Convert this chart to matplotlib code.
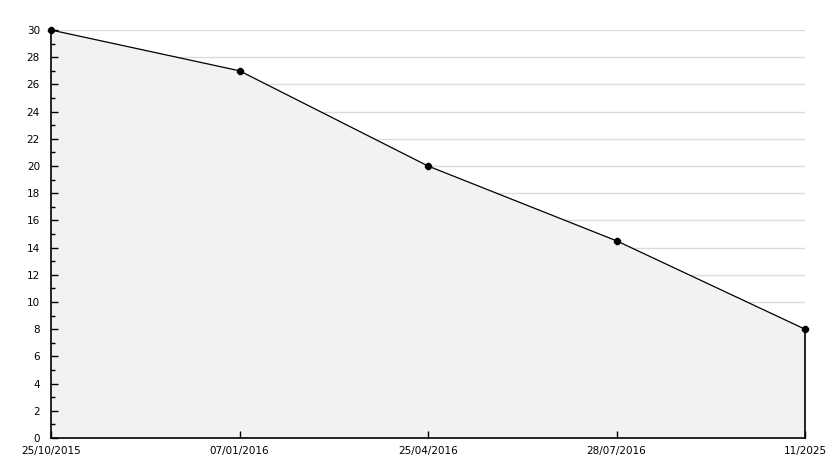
import matplotlib
matplotlib.use("Agg")
import matplotlib.pyplot as plt
import numpy as np

categories = ["25/10/2015", "07/01/2016", "25/04/2016", "28/07/2016", "11/2025"]
values = [30, 27, 20, 14.5, 8]

W, H = 834, 468
fig = plt.figure(figsize=(W / 100, H / 100), dpi=100)
ax = fig.add_axes([51 / W, 30 / H, 754 / W, 408 / H])

x = np.arange(len(categories))
ax.set_xlim(x[0], x[-1])
ax.set_ylim(0, 30)

ax.set_axisbelow(False)
ax.grid(False)
for yv in np.arange(2, 31, 2):
    ax.axhline(yv, color="#dcdcdc", linewidth=1, zorder=0.5)

ax.fill_between(x, 0, values, color="#f2f2f2", zorder=1, linewidth=0)
ax.plot(x, values, color="black", linewidth=0.9, zorder=3)
ax.plot([x[-1], x[-1]], [0, values[-1]], color="black", linewidth=1.2, zorder=3, clip_on=False)
ax.plot(x, values, linestyle="none", marker="8", markersize=5, color="black", zorder=4, clip_on=False)

for s in ["top", "right"]:
    ax.spines[s].set_visible(False)
for s in ["left", "bottom"]:
    ax.spines[s].set_color("black")
    ax.spines[s].set_linewidth(1.2)

ax.set_yticks(np.arange(0, 31, 2))
ax.set_yticks(np.arange(1, 30, 2), minor=True)
ax.set_xticks(x)
ax.set_xticklabels(categories)
ax.tick_params(axis="y", which="major", direction="in", length=5, width=1, pad=8, labelsize=7.5, colors="black")
ax.tick_params(axis="y", which="minor", direction="in", length=3, width=1)
ax.tick_params(axis="x", which="major", direction="in", length=5, width=1, pad=6, labelsize=7.5)

fig.savefig("out.png", dpi=100, facecolor="white")
